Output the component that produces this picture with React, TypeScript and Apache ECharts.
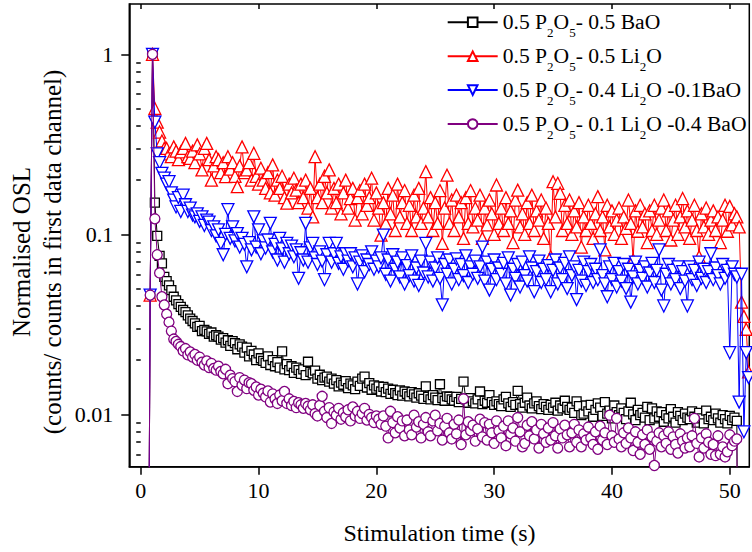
import React, { useEffect, useRef } from 'react';
import * as echarts from 'echarts';

// Time grid of the measurement (one channel every 0.2 s, first channel at 0.6 s)
const START_TIME = 0.6;
const CHANNEL_STEP = 0.2;

const X_MIN = -0.97;
const X_MAX = 51.66;
const Y_MIN = 0.00512;
const Y_MAX = 1.903;

const X_TICKS = [0, 10, 20, 30, 40, 50];
const Y_TICKS = [0.01, 0.1, 1];
const Y_MINOR_TICKS = [
  0.006, 0.007, 0.008, 0.009,
  0.02, 0.03, 0.04, 0.05, 0.06, 0.07, 0.08, 0.09,
  0.2, 0.3, 0.4, 0.5, 0.6, 0.7, 0.8, 0.9,
];

const SERIES_NAMES = [
  '0.5 P_2O_5- 0.5 BaO',
  '0.5 P_2O_5- 0.5 Li_2O',
  '0.5 P_2O_5- 0.4 Li_2O -0.1BaO',
  '0.5 P_2O_5- 0.1 Li_2O -0.4 BaO',
];

// 0.5 P2O5 - 0.5 BaO (black squares)
const baO = [
  0.0001, 0.046, 1, 0.15, 0.098, 0.076, 0.069, 0.058, 0.055, 0.052,
  0.049, 0.045, 0.043, 0.041, 0.0395, 0.038, 0.037, 0.0355, 0.034, 0.033,
  0.032, 0.0306, 0.031, 0.029, 0.0295, 0.0289, 0.028, 0.0285, 0.027, 0.0275,
  0.027, 0.026, 0.0265, 0.025, 0.0258, 0.024, 0.0255, 0.0249, 0.023, 0.0245,
  0.0238, 0.022, 0.0235, 0.021, 0.0225, 0.0215, 0.02, 0.0218, 0.0205, 0.0198,
  0.0193, 0.021, 0.0188, 0.02, 0.0185, 0.0195, 0.0182, 0.0224, 0.0178, 0.019,
  0.0176, 0.0185, 0.017, 0.0182, 0.0176, 0.0168, 0.0178, 0.0165, 0.0196, 0.0172,
  0.0169, 0.0175, 0.0158, 0.0166, 0.0155, 0.016, 0.0162, 0.0152, 0.0158, 0.0148,
  0.0155, 0.0143, 0.015, 0.0146, 0.0153, 0.014, 0.0148, 0.0145, 0.0138, 0.0152,
  0.0144, 0.0158, 0.0162, 0.0141, 0.0149, 0.0137, 0.0145, 0.0139, 0.0143, 0.0134,
  0.0142, 0.0133, 0.0139, 0.013, 0.0137, 0.0131, 0.0128, 0.0136, 0.0127, 0.0134,
  0.013, 0.0126, 0.0133, 0.0129, 0.0124, 0.0131, 0.0127, 0.0122, 0.0143, 0.0125,
  0.0121, 0.0128, 0.0124, 0.012, 0.0147, 0.0123, 0.0119, 0.0126, 0.0125, 0.0121,
  0.0119, 0.0125, 0.0117, 0.0122, 0.0152, 0.0121, 0.0116, 0.0123, 0.0118, 0.0115,
  0.0121, 0.0134, 0.0114, 0.0119, 0.0116, 0.0128, 0.0117, 0.0113, 0.0118, 0.0114,
  0.0111, 0.0121, 0.0125, 0.0115, 0.011, 0.0117, 0.0113, 0.0135, 0.0114, 0.0109,
  0.0116, 0.0124, 0.0112, 0.0108, 0.0115, 0.0118, 0.0111, 0.0107, 0.0114, 0.011,
  0.0106, 0.0113, 0.0109, 0.0116, 0.0105, 0.0112, 0.0108, 0.0119, 0.011, 0.0106,
  0.0109, 0.0102, 0.0118, 0.0111, 0.0099, 0.0101, 0.0112, 0.0104, 0.0113, 0.0097,
  0.0106, 0.0115, 0.0109, 0.0098, 0.0117, 0.0101, 0.0105, 0.0095, 0.0112, 0.0103,
  0.0099, 0.0108, 0.0102, 0.0094, 0.0104, 0.0116, 0.01, 0.0093, 0.0106, 0.0099,
  0.0102, 0.0096, 0.011, 0.0093, 0.0108, 0.0095, 0.0104, 0.0097, 0.0103, 0.0091,
  0.0099, 0.0095, 0.0107, 0.0097, 0.009, 0.0103, 0.0098, 0.0093, 0.0101, 0.0096,
  0.0094, 0.0104, 0.0097, 0.009, 0.0102, 0.0095, 0.0089, 0.0105, 0.0094, 0.0097,
  0.0093, 0.0101, 0.0095, 0.009, 0.0099, 0.0094, 0.0089, 0.0098, 0.0093, 0.0096,
  0.0092, 0.0001,
];

// 0.5 P2O5 - 0.5 Li2O (red triangles)
const li2O = [
  0.0001, 0.046, 1, 0.5, 0.42, 0.37, 0.33, 0.3, 0.3, 0.28,
  0.27, 0.306, 0.29, 0.26, 0.287, 0.3, 0.32, 0.27, 0.264, 0.29,
  0.25, 0.314, 0.28, 0.228, 0.3, 0.32, 0.26, 0.2, 0.24, 0.27,
  0.26, 0.22, 0.25, 0.209, 0.27, 0.23, 0.25, 0.21, 0.184, 0.24,
  0.306, 0.22, 0.228, 0.25, 0.2, 0.282, 0.21, 0.19, 0.233, 0.2,
  0.18, 0.22, 0.17, 0.243, 0.165, 0.2, 0.18, 0.21, 0.16, 0.149,
  0.19, 0.17, 0.205, 0.176, 0.15, 0.19, 0.16, 0.2, 0.14, 0.18,
  0.125, 0.27, 0.16, 0.19, 0.15, 0.21, 0.17, 0.228, 0.14, 0.18,
  0.15, 0.19, 0.13, 0.17, 0.2, 0.14, 0.158, 0.18, 0.12, 0.16,
  0.175, 0.13, 0.19, 0.145, 0.16, 0.205, 0.12, 0.17, 0.14, 0.099,
  0.15, 0.115, 0.18, 0.13, 0.165, 0.105, 0.19, 0.125, 0.15, 0.175,
  0.115, 0.145, 0.105, 0.165, 0.125, 0.18, 0.115, 0.14, 0.223, 0.125,
  0.16, 0.105, 0.15, 0.115, 0.175, 0.089, 0.14, 0.213, 0.115, 0.155,
  0.105, 0.165, 0.125, 0.15, 0.095, 0.16, 0.115, 0.175, 0.11, 0.14,
  0.12, 0.165, 0.095, 0.14, 0.113, 0.155, 0.13, 0.1, 0.188, 0.115,
  0.14, 0.105, 0.16, 0.115, 0.135, 0.09, 0.155, 0.176, 0.11, 0.13,
  0.1, 0.15, 0.115, 0.165, 0.105, 0.135, 0.12, 0.155, 0.095, 0.14,
  0.115, 0.075, 0.196, 0.125, 0.192, 0.169, 0.105, 0.145, 0.115, 0.155,
  0.1, 0.135, 0.11, 0.15, 0.085, 0.125, 0.105, 0.145, 0.115, 0.095,
  0.13, 0.162, 0.105, 0.125, 0.082, 0.145, 0.11, 0.135, 0.1, 0.12,
  0.14, 0.095, 0.125, 0.108, 0.155, 0.115, 0.072, 0.135, 0.104, 0.145,
  0.11, 0.13, 0.09, 0.135, 0.105, 0.145, 0.1, 0.12, 0.14, 0.155,
  0.105, 0.135, 0.093, 0.12, 0.145, 0.1, 0.125, 0.158, 0.11, 0.135,
  0.095, 0.12, 0.145, 0.105, 0.075, 0.13, 0.11, 0.14, 0.1, 0.12,
  0.135, 0.105, 0.125, 0.09, 0.12, 0.145, 0.104, 0.143, 0.113, 0.13,
  0.125, 0.11, 0.042, 0.035, 0.0297, 0.0172,
];

// 0.5 P2O5 - 0.4 Li2O - 0.1 BaO (blue inverted triangles)
const li2OBaO = [
  0.0001, 0.046, 1, 0.42, 0.28, 0.25, 0.218, 0.205, 0.19, 0.196,
  0.17, 0.155, 0.142, 0.16, 0.134, 0.165, 0.146, 0.134, 0.14, 0.128,
  0.125, 0.13, 0.118, 0.125, 0.112, 0.12, 0.117, 0.105, 0.11, 0.098,
  0.106, 0.089, 0.077, 0.1, 0.137, 0.095, 0.11, 0.092, 0.101, 0.085,
  0.095, 0.088, 0.066, 0.09, 0.082, 0.125, 0.085, 0.106, 0.078, 0.092,
  0.084, 0.093, 0.115, 0.08, 0.088, 0.072, 0.095, 0.083, 0.07, 0.089,
  0.078, 0.086, 0.075, 0.082, 0.057, 0.079, 0.072, 0.115, 0.07, 0.084,
  0.089, 0.074, 0.068, 0.08, 0.071, 0.056, 0.077, 0.089, 0.07, 0.078,
  0.089, 0.069, 0.075, 0.064, 0.078, 0.071, 0.078, 0.066, 0.074, 0.053,
  0.07, 0.076, 0.062, 0.072, 0.068, 0.08, 0.064, 0.071, 0.066, 0.074,
  0.099, 0.06, 0.072, 0.055, 0.077, 0.064, 0.07, 0.058, 0.074, 0.053,
  0.067, 0.059, 0.076, 0.055, 0.065, 0.052, 0.071, 0.061, 0.089, 0.058,
  0.07, 0.055, 0.065, 0.074, 0.057, 0.0406, 0.068, 0.06, 0.072, 0.053,
  0.064, 0.073, 0.056, 0.068, 0.059, 0.076, 0.054, 0.066, 0.06, 0.071,
  0.057, 0.066, 0.085, 0.055, 0.07, 0.049, 0.064, 0.072, 0.056, 0.065,
  0.06, 0.069, 0.053, 0.074, 0.046, 0.064, 0.057, 0.068, 0.051, 0.07,
  0.059, 0.055, 0.075, 0.065, 0.048, 0.062, 0.071, 0.054, 0.064, 0.056,
  0.067, 0.048, 0.063, 0.072, 0.053, 0.065, 0.056, 0.069, 0.05, 0.075,
  0.059, 0.066, 0.0434, 0.063, 0.055, 0.07, 0.052, 0.062, 0.068, 0.054,
  0.064, 0.056, 0.082, 0.059, 0.053, 0.045, 0.066, 0.056, 0.069, 0.051,
  0.062, 0.055, 0.068, 0.05, 0.064, 0.042, 0.058, 0.07, 0.053, 0.063,
  0.057, 0.066, 0.051, 0.061, 0.069, 0.054, 0.063, 0.082, 0.049, 0.04,
  0.06, 0.068, 0.053, 0.063, 0.056, 0.066, 0.05, 0.062, 0.055, 0.04,
  0.066, 0.056, 0.063, 0.052, 0.07, 0.057, 0.064, 0.054, 0.062, 0.078,
  0.056, 0.065, 0.059, 0.053, 0.068, 0.057, 0.063, 0.022, 0.066, 0.06,
  0.058, 0.0117, 0.06, 0.008, 0.022, 0.016,
];

// 0.5 P2O5 - 0.1 Li2O - 0.4 BaO (purple circles)
const baOLi2O = [
  0.0001, 0.046, 1, 0.122, 0.077, 0.061, 0.045, 0.0405, 0.036, 0.0325,
  0.029, 0.0262, 0.0254, 0.0245, 0.0238, 0.0225, 0.0232, 0.0214, 0.0222, 0.0208,
  0.0215, 0.02, 0.0208, 0.0195, 0.0188, 0.0198, 0.0182, 0.0192, 0.018, 0.0176,
  0.0185, 0.0173, 0.0168, 0.0178, 0.0148, 0.0165, 0.0158, 0.0152, 0.0134, 0.016,
  0.0145, 0.0155, 0.0139, 0.015, 0.0148, 0.0136, 0.0142, 0.0128, 0.0138, 0.0131,
  0.0125, 0.0135, 0.0117, 0.013, 0.0122, 0.0115, 0.0128, 0.0119, 0.0134, 0.0115,
  0.0122, 0.0112, 0.0118, 0.0109, 0.0116, 0.0113, 0.0108, 0.0115, 0.0111, 0.0106,
  0.0113, 0.0101, 0.0098, 0.0112, 0.0126, 0.0104, 0.0096, 0.0109, 0.0089, 0.0103,
  0.0099, 0.0108, 0.0094, 0.0102, 0.0097, 0.0106, 0.0092, 0.011, 0.0098, 0.0104,
  0.0095, 0.0101, 0.0108, 0.0093, 0.01, 0.0096, 0.009, 0.0098, 0.0094, 0.0088,
  0.0098, 0.0086, 0.0074, 0.0104, 0.009, 0.0079, 0.0097, 0.0084, 0.0092, 0.0076,
  0.0093, 0.0082, 0.0077, 0.0099, 0.0085, 0.0091, 0.0074, 0.0088, 0.0096, 0.008,
  0.0076, 0.0092, 0.0099, 0.0081, 0.0089, 0.0072, 0.0086, 0.0095, 0.0079, 0.0073,
  0.0088, 0.0078, 0.0093, 0.0068, 0.0122, 0.0077, 0.0091, 0.0081, 0.0087, 0.0071,
  0.0083, 0.0094, 0.0075, 0.009, 0.0072, 0.0088, 0.0079, 0.0069, 0.0092, 0.0081,
  0.0074, 0.0086, 0.0067, 0.0092, 0.0078, 0.0084, 0.0071, 0.0096, 0.008, 0.0066,
  0.0069, 0.0087, 0.0076, 0.0091, 0.0073, 0.0082, 0.0065, 0.0088, 0.0078, 0.007,
  0.0084, 0.0072, 0.009, 0.0076, 0.0065, 0.0083, 0.0074, 0.0087, 0.0077, 0.0066,
  0.0079, 0.0088, 0.007, 0.0082, 0.0066, 0.0078, 0.0072, 0.0085, 0.0074, 0.0068,
  0.008, 0.0064, 0.0086, 0.0072, 0.0079, 0.0068, 0.0099, 0.0076, 0.007, 0.0095,
  0.0073, 0.0066, 0.0079, 0.0069, 0.0084, 0.0074, 0.0063, 0.008, 0.007, 0.006,
  0.0077, 0.0068, 0.0082, 0.0064, 0.0075, 0.0052, 0.0071, 0.0079, 0.0066, 0.0076,
  0.0069, 0.008, 0.0064, 0.0075, 0.0068, 0.0061, 0.0078, 0.0071, 0.0065, 0.0074,
  0.0066, 0.0076, 0.0095, 0.0069, 0.0058, 0.0074, 0.0065, 0.0078, 0.007, 0.006,
  0.0068, 0.0059, 0.0076, 0.006, 0.0066, 0.0058, 0.0062, 0.0077, 0.0067, 0.0071,
  0.0073, 0.0001,
];

const SERIES_VALUES = [baO, li2O, li2OBaO, baOLi2O];
const COLORS = ['#000000', '#ff0000', '#0000ff', '#800080'];
const SYMBOLS = ['rect', 'triangle', 'triangle', 'circle'];
const SYMBOL_ROTATE = [0, 0, 180, 0];
const SYMBOL_SIZE = [9, 12, 12, 10];

const FONT = "'Liberation Serif', 'Times New Roman', serif";

function toPairs(values: number[]) {
  return values.map((v, i) => [Math.round((START_TIME + i * CHANNEL_STEP) * 10) / 10, v]);
}

function richName(name: string) {
  const parts = name.split(/_(\d)/);
  return parts
    .map((p, idx) => (p === '' ? '' : idx % 2 ? `{s|${p}}` : `{n|${p}}`))
    .join('');
}

export default function App() {
  const ref = useRef<HTMLDivElement>(null);

  useEffect(() => {
    if (!ref.current) return;
    const chart = echarts.init(ref.current, undefined, { renderer: 'svg' });
    const axisLine = { color: '#000', width: 1.5 };

    const option: any = {
      animation: false,
      backgroundColor: '#fff',
      grid: {
        left: 129.3,
        top: 4,
        width: 620,
        height: 462.7,
        show: true,
        borderColor: '#000',
        borderWidth: 1.5,
        backgroundColor: 'transparent',
        containLabel: false,
        outerBoundsMode: 'none',
      },
      legend: {
        orient: 'vertical',
        left: 446.7,
        top: 7.3,
        padding: 0,
        itemWidth: 50,
        itemHeight: 12,
        itemGap: 1.9,
        selectedMode: false,
        data: SERIES_NAMES,
        formatter: richName,
        textStyle: {
          rich: {
            n: { fontFamily: FONT, fontSize: 21.6, color: '#000', lineHeight: 30, verticalAlign: 'middle' },
            s: { fontFamily: FONT, fontSize: 13, color: '#000', lineHeight: 30, verticalAlign: 'top', padding: [19, 0, 0, 0] },
          },
        },
      },
      xAxis: [
        {
          type: 'value',
          min: X_MIN,
          max: X_MAX,
          position: 'bottom',
          axisLine: { show: true, onZero: false, lineStyle: axisLine },
          axisTick: { show: true, inside: false, length: 8, lineStyle: axisLine, customValues: X_TICKS },
          axisLabel: { customValues: X_TICKS, fontFamily: FONT, fontSize: 22, color: '#000', margin: 13 },
          splitLine: { show: false },
        },
        {
          type: 'value',
          min: X_MIN,
          max: X_MAX,
          position: 'top',
          axisLine: { show: false },
          axisTick: { show: true, inside: true, length: 5, lineStyle: axisLine, customValues: X_TICKS },
          axisLabel: { show: false },
          splitLine: { show: false },
        },
      ],
      yAxis: [
        {
          type: 'log',
          logBase: 10,
          min: Y_MIN,
          max: Y_MAX,
          position: 'left',
          axisLine: { show: true, onZero: false, lineStyle: axisLine },
          axisTick: { show: true, inside: false, length: 8, lineStyle: axisLine, customValues: Y_TICKS },
          axisLabel: {
            customValues: Y_TICKS,
            fontFamily: FONT,
            fontSize: 22,
            color: '#000',
            margin: 16,
            formatter: (v: number) => String(+Number(v).toPrecision(3)),
          },
          splitLine: { show: false },
        },
        {
          type: 'log',
          logBase: 10,
          min: Y_MIN,
          max: Y_MAX,
          position: 'left',
          axisLine: { show: false },
          axisTick: { show: true, inside: false, length: 4.5, lineStyle: axisLine, customValues: Y_MINOR_TICKS },
          axisLabel: { show: false },
          splitLine: { show: false },
        },
      ],
      graphic: [
        {
          type: 'text',
          x: 439.5,
          y: 533,
          style: {
            text: 'Stimulation time (s)',
            fontFamily: FONT,
            fontSize: 24,
            fill: '#000',
            align: 'center',
            verticalAlign: 'middle',
            textAlign: 'center',
            textVerticalAlign: 'middle',
          },
        },
        {
          type: 'text',
          x: 21,
          y: 252,
          rotation: Math.PI / 2,
          style: {
            text: 'Normalised OSL',
            fontFamily: FONT,
            fontSize: 25,
            fill: '#000',
            align: 'center',
            verticalAlign: 'middle',
            textAlign: 'center',
            textVerticalAlign: 'middle',
          },
        },
        {
          type: 'text',
          x: 52,
          y: 252,
          rotation: Math.PI / 2,
          style: {
            text: '(counts/ counts in first data channel)',
            fontFamily: FONT,
            fontSize: 25,
            fill: '#000',
            align: 'center',
            verticalAlign: 'middle',
            textAlign: 'center',
            textVerticalAlign: 'middle',
          },
        },
      ],
      series: SERIES_VALUES.map((values, k) => ({
        type: 'line',
        name: SERIES_NAMES[k],
        xAxisIndex: 0,
        yAxisIndex: 0,
        data: toPairs(values),
        symbol: SYMBOLS[k],
        symbolSize: SYMBOL_SIZE[k],
        symbolRotate: SYMBOL_ROTATE[k],
        showSymbol: true,
        showAllSymbol: true,
        clip: true,
        z: 2 + k,
        lineStyle: { color: COLORS[k], width: 1 },
        itemStyle: { color: '#fff', borderColor: COLORS[k], borderWidth: 1.3 },
        emphasis: { disabled: true },
      })),
    };

    chart.setOption(option);
    return () => chart.dispose();
  }, []);

  return (
    <div
      ref={ref}
      style={{ position: 'fixed', left: 0, top: 0, width: 752, height: 552, background: '#fff' }}
    />
  );
}
